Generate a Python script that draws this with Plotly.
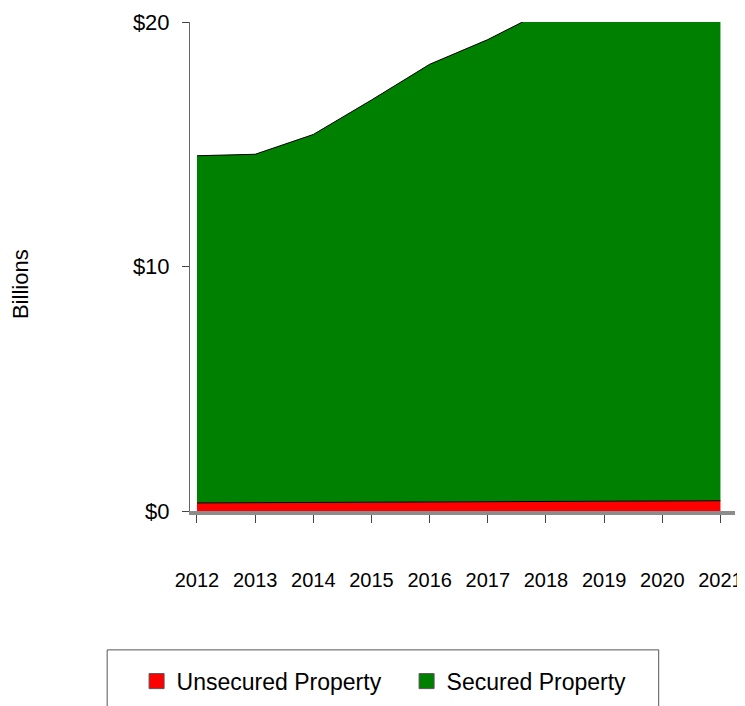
import plotly.graph_objects as go

# values in $ billions (2018+ run past the $20 ceiling)
years = [2012, 2013, 2014, 2015, 2016, 2017, 2018, 2019, 2020, 2021]
unsecured = [0.33, 0.34, 0.35, 0.36, 0.37, 0.38, 0.39, 0.40, 0.41, 0.42]
secured = [14.2, 14.25, 15.05, 16.45, 17.9, 18.9, 20.1, 21.2, 22.3, 23.4]
y_ticks = [0, 10, 20]
y_labels = ["$0", "$10", "$20"]

FONT = "Liberation Sans, Arial, sans-serif"
RED = "#FF0000"
GREEN = "#008000"


def make_figure():
    fig = go.Figure()

    # stacked areas (legend handled by square-marker stand-ins below)
    for name, vals, col in [
        ("Unsecured Property", unsecured, RED),
        ("Secured Property", secured, GREEN),
    ]:
        fig.add_trace(
            go.Scatter(
                x=years,
                y=vals,
                name=name,
                stackgroup="one",
                mode="lines",
                line=dict(color="black", width=1),
                fillcolor=col,
                showlegend=False,
            )
        )
        fig.add_trace(
            go.Scatter(
                x=[None],
                y=[None],
                name=name,
                mode="markers",
                marker=dict(
                    symbol="square", size=15, color=col, line=dict(color="#555", width=1)
                ),
            )
        )

    fig.update_xaxes(
        range=[2011.88, 2021.25],
        tickmode="array",
        tickvals=years,
        ticktext=[str(y) for y in years],
        ticks="outside",
        ticklen=8,
        tickcolor="#444",
        showline=True,
        linecolor="#8c8c8c",
        linewidth=4,
        showgrid=False,
        zeroline=False,
        automargin=False,
        ticklabeloverflow="allow",
        ticklabelstandoff=40,
        tickfont=dict(size=20, color="black", family=FONT),
    )
    fig.update_yaxes(
        range=[0, 20],
        tickmode="array",
        tickvals=y_ticks,
        ticktext=y_labels,
        ticks="outside",
        ticklen=7,
        tickcolor="#444",
        showline=True,
        linecolor="#666",
        linewidth=1,
        showgrid=False,
        zeroline=False,
        automargin=False,
        ticklabeloverflow="allow",
        ticklabelstandoff=8,
        tickfont=dict(size=22, color="black", family=FONT),
    )

    # axis title sits a little below the plot centre in the original
    fig.add_annotation(
        text="Billions",
        xref="paper",
        yref="paper",
        x=-0.312,
        y=0.464,
        xanchor="center",
        yanchor="middle",
        textangle=-90,
        showarrow=False,
        font=dict(size=22, color="black", family=FONT),
    )

    # legend frame
    fig.add_shape(
        type="rect",
        xref="paper",
        yref="paper",
        x0=-0.152,
        x1=0.86,
        y0=-0.42,
        y1=-0.284,
        line=dict(color="#555", width=1),
        fillcolor="rgba(0,0,0,0)",
    )

    # page body adds an 8px offset, so the figure is 8px smaller than the window
    fig.update_layout(
        width=737,
        height=698,
        margin=dict(l=182, r=10, t=14, b=195, autoexpand=False),
        paper_bgcolor="white",
        plot_bgcolor="white",
        font=dict(family=FONT, color="black"),
        showlegend=True,
        legend=dict(
            orientation="h",
            x=-0.098,
            xanchor="left",
            y=-0.348,
            yanchor="middle",
            traceorder="normal",
            font=dict(size=23, family=FONT, color="black"),
            entrywidth=225,
            itemwidth=30,
            bgcolor="rgba(0,0,0,0)",
        ),
    )
    return fig


fig = make_figure()
fig.write_html("out.html")
